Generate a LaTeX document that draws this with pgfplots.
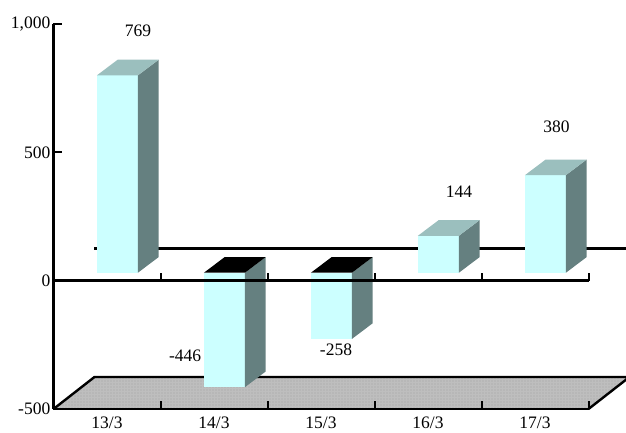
\documentclass[border=0pt]{standalone}
\usepackage{fontspec}
\setmainfont{Liberation Serif}
\usepackage{pgfplots}
\pgfplotsset{compat=1.18}
\usetikzlibrary{patterns}

\definecolor{barfront}{HTML}{CCFFFF}
\definecolor{bartop}{HTML}{9BBFBE}
\definecolor{barside}{HTML}{658080}
\definecolor{floorgray}{HTML}{BEBEBE}
\definecolor{floordots}{HTML}{A4A4A4}

\pgfdeclarepatternformonly{floordot}{\pgfqpoint{-1pt}{-1pt}}{\pgfqpoint{1pt}{1pt}}{\pgfqpoint{3pt}{3pt}}{%
  \pgfpathcircle{\pgfqpoint{0pt}{0pt}}{0.6pt}\pgfusepath{fill}}

\newcommand{\lbl}{\fontsize{17.5}{20}\selectfont}

% x of front left corner, low value, high value, colour of the top face
% the bars stand 31 units in front of the y=0 line, depth 0.194 / 61
\newcommand{\threedbar}[4]{
  \addplot[fill=barfront, draw=none] coordinates {(#1,{#2+31}) ({#1+0.383},{#2+31}) ({#1+0.383},{#3+31}) (#1,{#3+31})} -- cycle;
  \addplot[fill=barside, draw=none] coordinates {({#1+0.383},{#2+31}) ({#1+0.577},{#2+92}) ({#1+0.577},{#3+92}) ({#1+0.383},{#3+31})} -- cycle;
  \addplot[fill=#4, draw=none] coordinates {(#1,{#3+31}) ({#1+0.383},{#3+31}) ({#1+0.577},{#3+92}) ({#1+0.194},{#3+92})} -- cycle;
}

\begin{document}
\begin{tikzpicture}
\begin{axis}[
    scale only axis,
    width=535pt, height=385pt,
    xmin=0, xmax=5,
    ymin=-500, ymax=1000,
    clip=false,
    axis on top,
    axis lines=left,
    axis line style={-, line width=2.4pt},
    tick align=inside,
    tick style={black, line width=2pt},
    major tick length=8pt,
    xtick={0,1,2,3,4,5},
    xticklabels={13/3,14/3,15/3,16/3,17/3},
    x tick label as interval,
    ytick={-500,0,500,1000},
    yticklabels={-500,0,500,{1,000}},
    tick label style={font=\lbl},
    yticklabel style={inner sep=3pt},
    xticklabel style={inner sep=1pt, yshift=-7pt},
]
    % floor and back wall
    \addplot[fill=floorgray, draw=none] coordinates {(0,-500) (0.383,-375.3) (5.383,-375.3) (5,-500)} -- cycle;
    \addplot[pattern=floordot, pattern color=floordots, draw=none] coordinates {(0,-500) (0.383,-375.3) (5.383,-375.3) (5,-500)} -- cycle;
    \addplot[black, line width=2.4pt] coordinates {(0,-500) (0.383,-375.3) (5.383,-375.3) (5,-500)};
    \addplot[black, line width=2.4pt] coordinates {(0.383,124.7) (5.383,124.7)};

    \threedbar{0.406}{0}{769}{bartop}
    \threedbar{1.406}{-446}{0}{black}
    \threedbar{2.406}{-258}{0}{black}
    \threedbar{3.406}{0}{144}{bartop}
    \threedbar{4.406}{0}{380}{bartop}

    % front zero line with its ticks, over the bars
    \addplot[black, line width=2.4pt] coordinates {(0,0) (5,0)};
    \addplot[black, line width=2pt] coordinates {(1,0) (1,31)};
    \addplot[black, line width=2pt] coordinates {(2,0) (2,31)};
    \addplot[black, line width=2pt] coordinates {(3,0) (3,31)};
    \addplot[black, line width=2pt] coordinates {(4,0) (4,31)};
    \addplot[black, line width=2pt] coordinates {(5,0) (5,31)};

    \node[font=\lbl] at (axis cs:0.79,974) {769};
    \node[font=\lbl] at (axis cs:1.23,-292) {-446};
    \node[font=\lbl] at (axis cs:2.64,-269) {-258};
    \node[font=\lbl] at (axis cs:3.79,347) {144};
    \node[font=\lbl] at (axis cs:4.70,600) {380};
\end{axis}
\pgfresetboundingbox
\useasboundingbox (-53.5pt,-23pt) rectangle (572.5pt,409pt);
\end{tikzpicture}
\end{document}
